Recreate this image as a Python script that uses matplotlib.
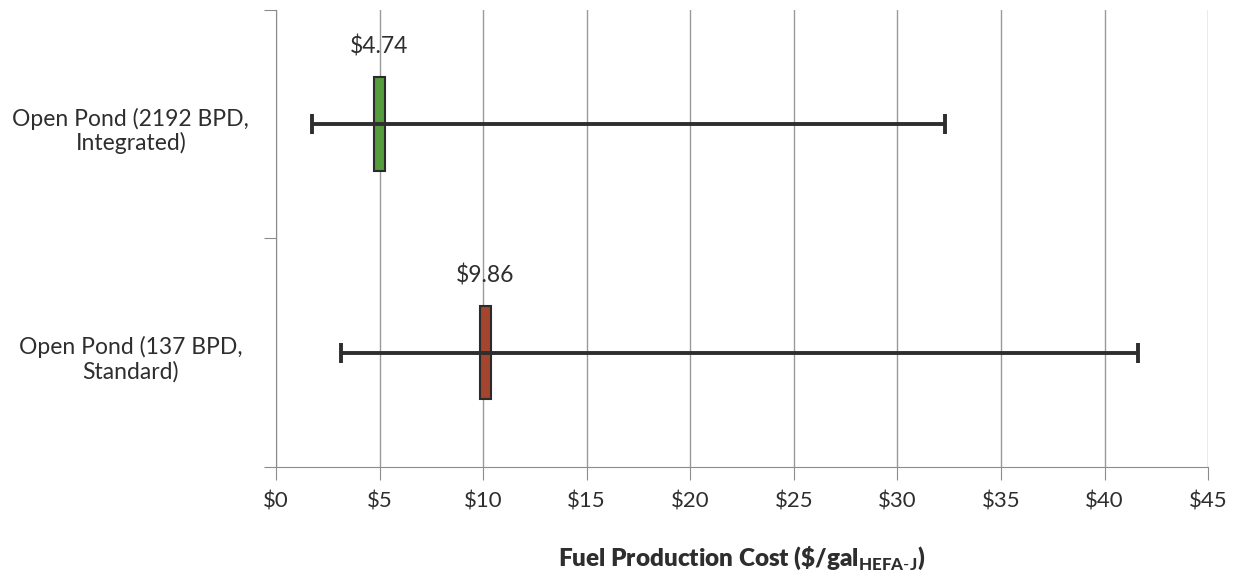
import matplotlib.pyplot as plt
from matplotlib.ticker import FuncFormatter

plt.rcParams['font.family'] = ['Lato', 'DejaVu Sans']
plt.rcParams['mathtext.fontset'] = 'custom'
plt.rcParams['mathtext.rm'] = 'Lato'
plt.rcParams['mathtext.bf'] = 'Lato:black'

# fuel production cost per pathway ($/gal), bottom to top
cases = ['Open Pond (137 BPD,\nStandard)', 'Open Pond (2192 BPD,\nIntegrated)']
base_cost = [9.86, 4.74]
low_cost = [3.15, 1.75]
high_cost = [41.6, 32.3]
box_colors = ['#a3452f', '#559c3c']

fig = plt.figure(figsize=(12.43, 5.82), dpi=100)
ax = fig.add_axes([0.222, 0.198, 0.750, 0.785])

ypos = list(range(len(cases)))

# base-case marker boxes
ax.barh(ypos, 0.5, left=base_cost, height=0.41, color=box_colors,
        edgecolor='#2b2b2b', linewidth=1.5, zorder=2)

# low/high range whiskers
for y, c, lo, hi in zip(ypos, base_cost, low_cost, high_cost):
    ax.errorbar(c, y, xerr=[[c - lo], [hi - c]], fmt='none', ecolor='#2e2e2e',
                elinewidth=2.8, capsize=7, capthick=2.8, zorder=3)
    ax.text(c + 0.25, y + 0.29, '$%.2f' % c, ha='center', va='bottom',
            fontsize=16.5, color='#2e2e2e')

ax.set_xlim(0, 45)
ax.set_ylim(-0.5, 1.5)
ax.set_xticks(range(0, 46, 5))
ax.xaxis.set_major_formatter(FuncFormatter(lambda v, p: '$%d' % v))
ax.set_yticks([-0.5, 0.5, 1.5])
ax.set_yticklabels([])
for y, name in zip(ypos, cases):
    ax.text(-7.0, y - 0.03, name, ha='center', va='center', fontsize=16.5,
            color='#2e2e2e', linespacing=1.15)

ax.grid(axis='x', color='#9a9a9a', linewidth=1, zorder=0)
ax.set_axisbelow(True)
for s in ['top', 'right']:
    ax.spines[s].set_visible(False)
for s in ['left', 'bottom']:
    ax.spines[s].set_color('#8c8c8c')
ax.tick_params(axis='both', colors='#8c8c8c', length=9, labelcolor='#2e2e2e',
               labelsize=16)
ax.tick_params(axis='x', pad=9)

ax.set_xlabel(r'Fuel Production Cost (\$/gal$_{\mathbf{HEFA\text{-}J}}$)',
              fontsize=17.5, fontweight='heavy', color='#2e2e2e', labelpad=24)

fig.savefig('out.png', dpi=100)
